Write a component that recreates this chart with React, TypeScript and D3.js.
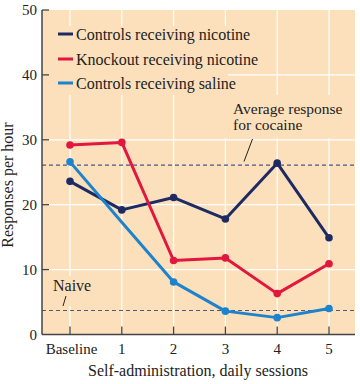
import React from 'react';
import * as d3 from 'd3';

const SESSIONS = ['Baseline', '1', '2', '3', '4', '5'];
const Y_TICKS = [0, 10, 20, 30, 40, 50];

const CONTROLS_NICOTINE = [23.6, 19.2, 21.1, 17.8, 26.4, 14.9];
const KNOCKOUT_NICOTINE = [29.2, 29.6, 11.4, 11.8, 6.3, 10.9];
const CONTROLS_SALINE = [26.6, 17.3, 8.1, 3.6, 2.6, 4.0];
// saline at session 1 has no dot in the figure
const SALINE_MARKERS = [true, false, true, true, true, true];

const COCAINE_AVG = 26.1;
const NAIVE = 3.7;

const SERIES = [
  { name: 'Controls receiving nicotine', color: '#1e2b63', values: CONTROLS_NICOTINE, markers: [true, true, true, true, true, true] },
  { name: 'Knockout receiving nicotine', color: '#e1173d', values: KNOCKOUT_NICOTINE, markers: [true, true, true, true, true, true] },
  { name: 'Controls receiving saline', color: '#1c83cc', values: CONTROLS_SALINE, markers: SALINE_MARKERS },
];

const BG = '#fce0bc';
const FONT = "'Liberation Serif', 'DejaVu Serif', serif";
const txt = { fontFamily: FONT };

export default function App() {
  const width = 360;
  const height = 384;
  const left = 42;
  const right = 355;
  const top = 10;
  const bottom = 334.5;

  const x = d3.scaleLinear().domain([0, SESSIONS.length - 1]).range([70, 329]);
  const y = d3.scaleLinear().domain([0, 50]).range([bottom, top]);

  const line = d3.line<number>()
    .x((_, i) => x(i))
    .y(d => y(d));

  return (
    <div style={{ position: 'absolute', left: 0, top: 0 }}>
      <svg width={width} height={height} style={{ display: 'block', background: '#fff', fontFamily: FONT }}>
        <rect x={left} y={top} width={right - left} height={bottom - top} fill={BG} />

        {/* grid */}
        {Y_TICKS.filter(t => t > 0 && t < 50).map(t => (
          <line key={'gy' + t} x1={left} x2={right} y1={y(t)} y2={y(t)} stroke="#fff" strokeWidth={1.2} />
        ))}
        {SESSIONS.map((s, i) => (
          <line key={'gx' + s} x1={x(i)} x2={x(i)} y1={top} y2={bottom} stroke="#fff" strokeWidth={1.2} />
        ))}

        {/* masks behind labels */}
        <rect x={43} y={26} width={185} height={69} fill={BG} />
        <rect x={224} y={95} width={131} height={43} fill={BG} />
        <rect x={50} y={276} width={44} height={30} fill={BG} />

        {/* reference lines */}
        <line x1={left} x2={right} y1={y(COCAINE_AVG)} y2={y(COCAINE_AVG)} stroke="#4a5582" strokeWidth={1.2} strokeDasharray="4,3" />
        <line x1={left} x2={right} y1={y(NAIVE)} y2={y(NAIVE)} stroke="#555a70" strokeWidth={1.2} strokeDasharray="4,3" />

        {/* axes */}
        <line x1={left} x2={left} y1={top} y2={bottom} stroke="#444" strokeWidth={1.5} />
        <line x1={left} x2={right} y1={bottom} y2={bottom} stroke="#444" strokeWidth={1.5} />
        {Y_TICKS.map(t => (
          <g key={'yt' + t}>
            {t > 0 && <line x1={left} x2={left + 7} y1={y(t)} y2={y(t)} stroke="#444" strokeWidth={1.3} />}
            <text x={37} y={y(t) + 5} textAnchor="end" fontSize={15} fill="#222" style={txt}>{t}</text>
          </g>
        ))}
        {SESSIONS.map((s, i) => (
          <g key={'xt' + s}>
            <line x1={x(i)} x2={x(i)} y1={bottom} y2={bottom - 8} stroke="#444" strokeWidth={1.3} />
            <text x={x(i) + (i === 0 ? 1.5 : 0)} y={354} textAnchor="middle" fontSize={15} fill="#222" style={txt}>{s}</text>
          </g>
        ))}
        <text x={198} y={376} textAnchor="middle" fontSize={16} fill="#222" style={txt}>Self-administration, daily sessions</text>
        <text transform={`translate(13,${185}) rotate(-90)`} textAnchor="middle" fontSize={16} fill="#222" style={txt}>Responses per hour</text>

        {/* series */}
        {SERIES.map(s => (
          <g key={s.name}>
            <path d={line(s.values) || ''} fill="none" stroke={s.color} strokeWidth={3} strokeLinejoin="round" />
            {s.values.map((v, i) => s.markers[i] && (
              <circle key={i} cx={x(i)} cy={y(v)} r={3.8} fill={s.color} />
            ))}
          </g>
        ))}

        {/* legend */}
        {SERIES.map((s, i) => {
          const ly = [34, 59, 83][i];
          return (
            <g key={'lg' + s.name}>
              <line x1={58} x2={73} y1={ly} y2={ly} stroke={s.color} strokeWidth={3} />
              <text x={76} y={ly + 5.5} fontSize={16} fill="#222" style={txt}>{s.name}</text>
            </g>
          );
        })}

        {/* annotations */}
        <text x={233} y={114} fontSize={15.5} fill="#222" style={txt}>Average response</text>
        <text x={233} y={129.5} fontSize={15.5} fill="#222" style={txt}>for cocaine</text>
        <line x1={252.5} y1={139} x2={244} y2={161.5} stroke="#222" strokeWidth={1} />
        <text x={53} y={291} fontSize={16} fill="#222" style={txt}>Naive</text>
        <line x1={66} y1={296} x2={63} y2={306} stroke="#222" strokeWidth={1} />
      </svg>
    </div>
  );
}
